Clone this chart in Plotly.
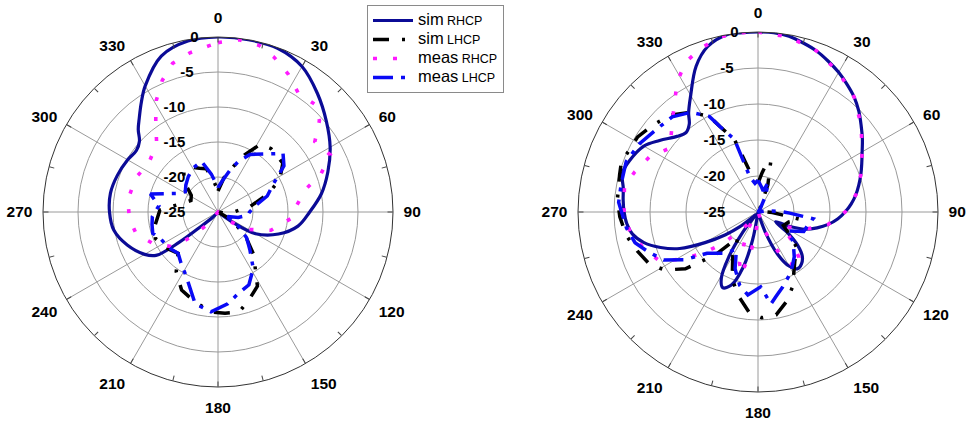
import plotly.graph_objects as go

# ---------------- data (theta in degrees, values in dB) ----------------
# Left pattern
L_simR_theta = [0, 10, 20, 30, 40, 50, 60, 70, 80, 90, 100, 110, 120, 125, 130, 140, 150, 160, 170, 180,
                190, 200, 210, 220, 225, 230, 232, 235, 240, 250, 260, 270, 280, 290, 300, 307, 312, 316,
                320, 325, 330, 340, 350, 360]
L_simR = [0, 0, -0.1, -1.0, -2.9, -4.8, -6.5, -8.3, -10.0, -11.9, -13.4, -15.8, -18.8, -22.5, -25, -25, -25,
          -25, -25, -25, -25, -25, -25, -25, -24, -21.5, -18, -14.2, -12.9, -11.2, -9.9, -9.5, -9.4, -9.7,
          -10.1, -10.4, -9.9, -8.6, -7.5, -5.9, -4.2, -1.3, -0.2, 0]

L_simL_theta = [0, 10, 18, 25, 32, 40, 53, 62, 70, 80, 90, 100, 110, 120, 130, 140, 152, 160, 168, 176,
                184, 195, 205, 215, 224, 235, 247, 258, 272, 282, 293, 302, 312, 320, 328, 337, 345, 352, 360]
L_simL = [-22, -20, -18.3, -16, -13.6, -13.2, -13.4, -15, -17.3, -20.3, -22.8, -24, -25, -23, -20, -17.1,
          -13, -11.8, -10.4, -10.5, -10.7, -11.8, -12.7, -14.6, -16.8, -16, -15.3, -15.8, -16.7, -19.5,
          -20.8, -20.5, -18.5, -17.4, -17.4, -18.2, -18.6, -20.5, -22]

L_measR_theta = [0, 7, 14, 20, 27, 34, 42, 48, 54, 63, 70, 75, 85, 95, 109, 120, 130, 140, 150, 160, 170,
                 180, 190, 200, 210, 221, 227, 232, 244, 255, 266, 278, 293, 305, 318, 326, 331, 337, 343,
                 350, 357, 360]
L_measR = [-0.8, -0.2, -0.5, -1.5, -2.9, -4.5, -4.3, -5.5, -7.9, -7.0, -9.4, -11.9, -13.7, -14.5, -17.0,
           -20, -23, -25, -25, -25, -25, -25, -25, -25, -25, -22.5, -19.8, -16.9, -14.7, -12.9, -12.3,
           -12.0, -12.3, -12.9, -11.9, -9.1, -6.8, -4.6, -2.8, -1.9, -1.2, -0.8]

L_measL_theta = [0, 8, 16, 22, 29, 38, 48, 55, 63, 72, 80, 90, 96, 105, 115, 125, 132, 140, 148, 157,
                 166, 174, 184, 194, 206, 216, 224, 234, 244, 252, 259, 266, 276, 285, 294, 302, 310,
                 320, 330, 342, 350, 360]
L_measL = [-21.5, -20.5, -18.8, -17.2, -15.6, -14.5, -12.5, -13.5, -16.1, -17.6, -19.5, -20.5, -20.7,
           -22, -23.5, -21.5, -19.5, -17.9, -15.5, -13.7, -13, -11.8, -10.7, -11.5, -14.7, -16, -16.8,
           -16.3, -16, -15.2, -15.4, -15.6, -16.5, -15, -18.5, -19.5, -19, -18.4, -17.8, -17.4, -19.5, -21.5]

# Right pattern
R_simR_theta = [0, 5, 10, 15, 20, 25, 30, 35, 40, 45, 50, 55, 60, 65, 70, 75, 80, 85, 90, 95, 100, 105,
                110, 115, 119, 125, 130, 135, 140, 145, 150, 155, 160, 165, 170, 180, 187, 191, 195, 200,
                205, 209, 213, 217, 221, 226, 231, 235, 240, 245, 250, 255, 260, 265, 270, 275, 280, 286,
                292, 300, 306, 313, 318, 322, 325, 330, 337, 343, 350, 355, 360]
R_simR = [0, 0, -0.2, -0.7, -1.2, -1.9, -2.6, -3.4, -4.2, -5.2, -6.3, -7.3, -8.3, -9.1, -9.8, -10.5,
          -11.2, -12.0, -12.9, -13.9, -15.1, -16.5, -18.0, -20.5, -22.2, -20.0, -17.8, -16.3, -15.6,
          -15.4, -16.3, -18.5, -22.0, -25, -25, -25, -25, -21, -17.1, -14.2, -13.4, -14.5, -17.5,
          -21.5, -24.5, -24, -21.7, -19.5, -16.5, -13.0, -10.6, -8.6, -7.3, -6.7, -6.4, -6.2, -6.0,
          -5.4, -5.8, -6.7, -8.1, -9.6, -10.1, -9.5, -8.2, -6.3, -3.0, -1.0, 0, 0, 0]

R_simL_theta = [0, 6, 10, 14, 20, 30, 45, 60, 75, 88, 92, 100, 108, 118, 126, 133, 143, 155, 162, 170,
                178, 185, 193, 201, 210, 218, 225, 232, 238, 244, 252, 260, 268, 275, 285, 290, 302, 310,
                318, 326, 333, 336, 342, 348, 354, 360]
R_simL = [-21, -19.5, -18.2, -17.6, -21, -24.5, -25, -25, -25, -24, -23, -19, -20.5, -21, -19.5, -17.5,
          -16.5, -13.6, -12, -10.5, -10.3, -11, -13, -15, -18, -20.5, -16.5, -12.2, -9.8, -8.3, -7.4,
          -6.4, -5.8, -5.4, -5.1, -4.8, -5.3, -6.1, -6.9, -8.3, -10.1, -12, -14.4, -19, -20.5, -21]

R_measR_theta = [0, 10, 20, 30, 40, 50, 60, 70, 80, 90, 100, 110, 120, 130, 138, 144, 152, 160, 170,
                 180, 187, 190, 195, 200, 210, 216, 222, 228, 233, 238, 243, 252, 261, 270, 281, 288,
                 297, 306, 315, 322, 328, 334, 341, 348, 355, 360]
R_measR = [0, -0.3, -1.2, -2.6, -4.2, -6.3, -8.3, -9.8, -11.2, -12.9, -15.1, -18.0, -21.0, -19.0,
           -16.5, -15.4, -17.5, -22.0, -25, -24, -21.5, -19.6, -16.0, -17.5, -22, -24, -22.0, -18.5,
           -15.5, -12.8, -9.8, -8.4, -7.0, -6.4, -6.1, -7.0, -8.1, -9.9, -8.1, -6.1, -3.8, -1.9, -0.9,
           -0.1, 0, 0]

R_measL_theta = [0, 8, 14, 19, 25, 35, 50, 70, 82, 88, 92, 97, 104, 113, 122, 131, 141, 151, 162, 168,
                 172, 178, 187, 194, 202, 210, 220, 231, 237, 243, 250, 256, 263, 274, 282, 291, 300,
                 309, 318, 326, 333, 336, 342, 347, 354, 360]
R_measL = [-20.6, -21.5, -22, -20.6, -22.5, -24.5, -25, -25, -24, -22, -20.6, -17.3, -17.8, -18.1,
           -20, -18.5, -17, -15.5, -14, -13, -12.1, -14.6, -13.4, -14.5, -16.5, -19, -17.5, -15.9,
           -12.8, -10.3, -8.8, -7.4, -6.6, -5.6, -5.6, -5.4, -6.0, -6.8, -7.2, -8.3, -10.1, -12, -14.4,
           -20, -21, -20.6]

angle_ticks = list(range(0, 360, 30))
minor_ticks = list(range(0, 360, 15))
r_ticks = [-25, -20, -15, -10, -5, 0]

series_kind = ["sim", "sim", "meas", "meas"]
series_pol = ["RHCP", "LHCP", "RHCP", "LHCP"]

NAVY = "#0B0B96"
BLUE = "#0A0AF5"
MAG = "#FF1AFF"
BLK = "#000000"

names = [f"<span style='font-size:16.5px'>{k}</span> <span style='font-size:12.5px'>{p}</span>"
         for k, p in zip(series_kind, series_pol)]

styles = [
    dict(color=NAVY, width=3.2, dash="solid", shape="spline"),
    dict(color=BLK, width=3.5, dash="16px,13px,3px,13px", shape="linear"),
    dict(color=MAG, width=3.6, dash="4px,16px", shape="linear"),
    dict(color=BLUE, width=3.5, dash="20px,8px,4px,8px", shape="linear"),
]

fig = go.Figure()

left = [(L_simR_theta, L_simR), (L_simL_theta, L_simL), (L_measR_theta, L_measR), (L_measL_theta, L_measL)]
right = [(R_simR_theta, R_simR), (R_simL_theta, R_simL), (R_measR_theta, R_measR), (R_measL_theta, R_measL)]

for i, (th, rr) in enumerate(left):
    fig.add_trace(go.Scatterpolar(theta=th, r=rr, mode="lines", line=styles[i], name=names[i],
                                  subplot="polar", showlegend=True, hoverinfo="skip"))
for i, (th, rr) in enumerate(right):
    fig.add_trace(go.Scatterpolar(theta=th, r=rr, mode="lines", line=styles[i], name=names[i],
                                  subplot="polar2", showlegend=False, hoverinfo="skip"))
# invisible traces to activate tick-overlay subplots
for sp in ["polar3", "polar4"]:
    fig.add_trace(go.Scatterpolar(theta=[0], r=[-25], mode="markers", marker=dict(opacity=0),
                                  subplot=sp, showlegend=False, hoverinfo="skip"))

FONT = "Liberation Sans, Arial, sans-serif"

# radial labels: visible text left of the spoke (a transparent twin keeps it off-centre)
r_text = [f"{v}<span style='color:rgba(0,0,0,0)'>\u00a0\u00a0{v}</span>" for v in r_ticks]


def main_polar(dx, dy):
    return dict(
        domain=dict(x=dx, y=dy),
        bgcolor="white",
        angularaxis=dict(
            rotation=90, direction="clockwise",
            tickmode="array", tickvals=angle_ticks, ticktext=[str(a) for a in angle_ticks],
            ticks="outside", ticklen=7, tickcolor="rgba(0,0,0,0)",
            tickfont=dict(family=FONT, size=15.5, color="black", weight="bold"),
            showline=True, linecolor="#333", linewidth=1,
            showgrid=True, gridcolor="#9a9a9a", gridwidth=1,
        ),
        radialaxis=dict(
            range=[-25, 0], tickmode="array", tickvals=r_ticks, ticktext=r_text,
            angle=90, tickangle=90, side="counterclockwise",
            showline=False, ticks="",
            showgrid=True, gridcolor="#9a9a9a", gridwidth=1,
            tickfont=dict(family=FONT, size=15, color="black", weight="bold"),
        ),
    )


def tick_polar(dx, dy):
    return dict(
        domain=dict(x=dx, y=dy),
        bgcolor="rgba(0,0,0,0)",
        angularaxis=dict(
            rotation=90, direction="clockwise",
            tickmode="array", tickvals=minor_ticks,
            ticks="inside", ticklen=5, tickcolor="#444", tickwidth=1,
            showticklabels=False, showline=False, showgrid=False,
        ),
        radialaxis=dict(range=[-25, 0], visible=False),
    )


LX = [43 / 969, 393 / 969]
LY = [34 / 421, 384 / 421]
RX = [578 / 969, 938 / 969]
RY = [29 / 421, 389 / 421]

fig.update_layout(
    width=969, height=421,
    margin=dict(l=0, r=0, t=0, b=0),
    paper_bgcolor="white",
    font=dict(family=FONT, color="black"),
    polar=main_polar(LX, LY),
    polar2=main_polar(RX, RY),
    polar3=tick_polar(LX, LY),
    polar4=tick_polar(RX, RY),
    legend=dict(
        x=367 / 969, y=1 - 5 / 421, xanchor="left", yanchor="top",
        bgcolor="white", bordercolor="#8a8a8a", borderwidth=1,
        font=dict(family=FONT, size=12, color="black"),
        tracegroupgap=0, itemwidth=40,
    ),
    showlegend=True,
)

fig.write_html("out.html")
